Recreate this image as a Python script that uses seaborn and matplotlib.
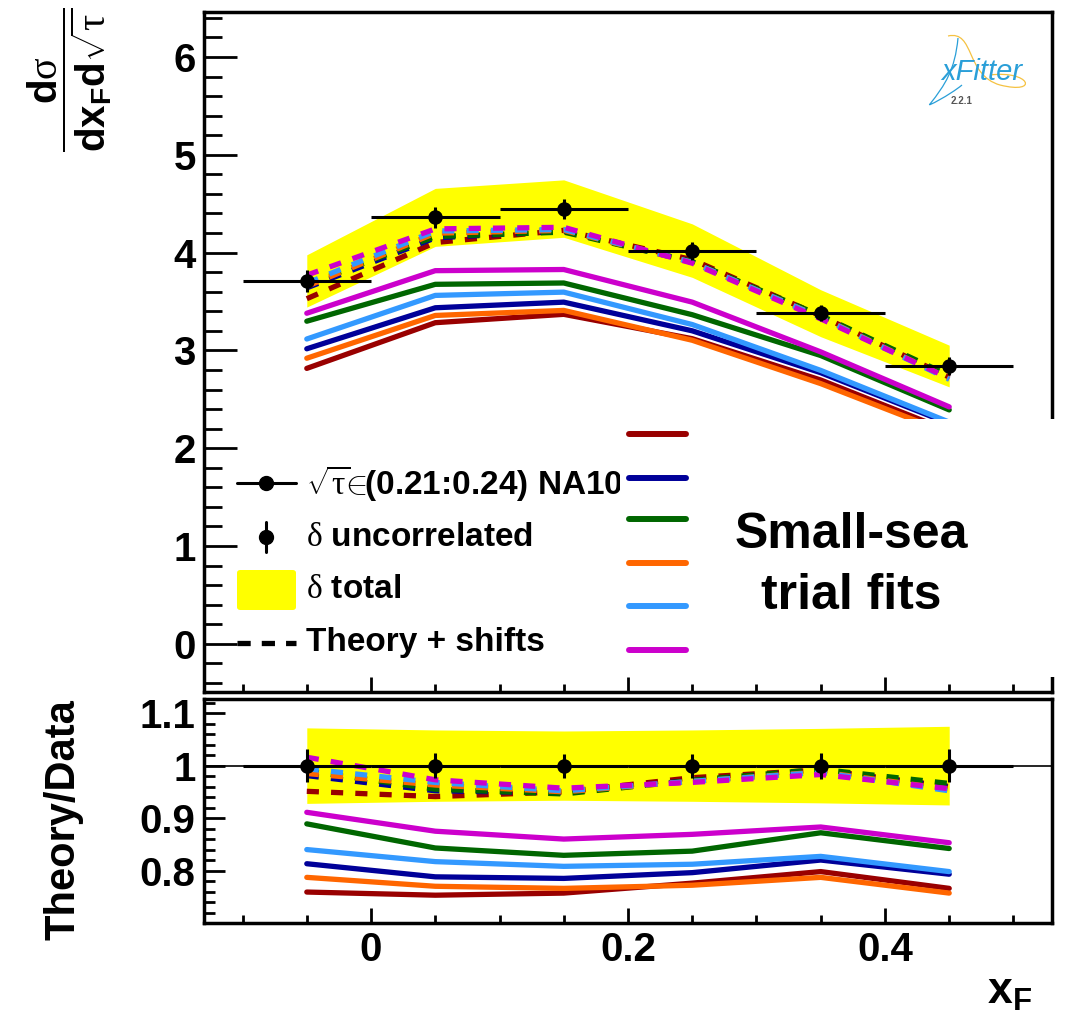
import numpy as np
import pandas as pd
import matplotlib
matplotlib.use("Agg")
import matplotlib.pyplot as plt
import seaborn as sns
from matplotlib.lines import Line2D
from matplotlib.patches import Rectangle, FancyBboxPatch, PathPatch
from matplotlib.path import Path
from matplotlib.ticker import MultipleLocator, FixedLocator, FuncFormatter

# ---- measured points (NA10, sqrt(tau) in 0.21-0.24) ----
x_f = [-0.05, 0.05, 0.15, 0.25, 0.35, 0.45]
x_half_width = 0.05
cross_section = [3.71, 4.36, 4.45, 4.02, 3.38, 2.84]
err_uncorr_rel = [0.031, 0.024, 0.023, 0.023, 0.025, 0.032]
err_total_rel = [0.072, 0.068, 0.066, 0.068, 0.071, 0.075]

# ---- small-sea trial fits ----
fit_names = ["trial 1", "trial 2", "trial 3", "trial 4", "trial 5", "trial 6"]
fit_colors = ["#990000", "#000099", "#006600", "#ff6600", "#3399ff", "#cc00cc"]

# theory / data for each trial fit
ratio_theory_1 = [0.759, 0.753, 0.757, 0.776, 0.798, 0.766]
ratio_theory_2 = [0.813, 0.788, 0.785, 0.796, 0.820, 0.793]
ratio_theory_3 = [0.889, 0.843, 0.829, 0.837, 0.872, 0.842]
ratio_theory_4 = [0.787, 0.770, 0.766, 0.772, 0.787, 0.757]
ratio_theory_5 = [0.840, 0.817, 0.808, 0.812, 0.827, 0.798]
ratio_theory_6 = [0.911, 0.875, 0.860, 0.869, 0.883, 0.853]

# (theory + shifts) / data for each trial fit
ratio_shifted_1 = [0.951, 0.941, 0.950, 0.977, 0.992, 0.960]
ratio_shifted_2 = [0.981, 0.952, 0.948, 0.972, 0.990, 0.960]
ratio_shifted_3 = [0.990, 0.955, 0.946, 0.972, 0.993, 0.966]
ratio_shifted_4 = [0.985, 0.963, 0.950, 0.970, 0.988, 0.955]
ratio_shifted_5 = [0.994, 0.968, 0.952, 0.970, 0.987, 0.952]
ratio_shifted_6 = [1.016, 0.973, 0.957, 0.968, 0.983, 0.956]

ratio_theory = [ratio_theory_1, ratio_theory_2, ratio_theory_3,
                ratio_theory_4, ratio_theory_5, ratio_theory_6]
ratio_shifted = [ratio_shifted_1, ratio_shifted_2, ratio_shifted_3,
                 ratio_shifted_4, ratio_shifted_5, ratio_shifted_6]

ratio_ticks = [0.8, 0.9, 1.0, 1.1]

# ---- style ----
sns.set_theme(style="ticks")
plt.rcParams["font.family"] = ["Liberation Sans", "DejaVu Sans"]
plt.rcParams["font.weight"] = "bold"
plt.rcParams["mathtext.fontset"] = "custom"
plt.rcParams["mathtext.rm"] = "Liberation Serif:weight=normal"
plt.rcParams["mathtext.it"] = "Liberation Serif:italic:weight=normal"
plt.rcParams["mathtext.bf"] = "Liberation Sans:bold"
plt.rcParams["mathtext.sf"] = "Liberation Sans:bold"
plt.rcParams["axes.linewidth"] = 2.5
for key in ["text.color", "axes.labelcolor", "xtick.color", "ytick.color",
            "axes.edgecolor", "xtick.labelcolor", "ytick.labelcolor"]:
    plt.rcParams[key] = "black"

W, H = 1071, 1015


def fx(px):
    return px / W


def fy(py):
    return 1 - py / H


data = np.array(cross_section)
xs = np.array(x_f)
rows = []
for name, rt, rs in zip(fit_names, ratio_theory, ratio_shifted):
    for i in range(len(x_f)):
        rows.append(dict(xF=x_f[i], fit=name, kind="theory",
                         ratio=rt[i], value=rt[i] * data[i]))
        rows.append(dict(xF=x_f[i], fit=name, kind="shifted",
                         ratio=rs[i], value=rs[i] * data[i]))
df = pd.DataFrame(rows)
palette = dict(zip(fit_names, fit_colors))

fig = plt.figure(figsize=(W / 100, H / 100), dpi=100)
ax = fig.add_axes([fx(204), fy(691.7), fx(1052) - fx(204), fy(12) - fy(691.7)])
axr = fig.add_axes([fx(204), fy(923), fx(1052) - fx(204), fy(699) - fy(923)])

lw_theory = 3.8
dash = (0, (2.3, 2.3))

# ---- upper panel ----
ax.fill_between(xs, data * (1 - np.array(err_total_rel)),
                data * (1 + np.array(err_total_rel)),
                color="#ffff00", lw=0, zorder=1)
sns.lineplot(data=df[df.kind == "theory"], x="xF", y="value", hue="fit",
             palette=palette, linewidth=lw_theory, legend=False,
             errorbar=None, sort=False, ax=ax, zorder=2)
sns.lineplot(data=df[df.kind == "shifted"], x="xF", y="value", hue="fit",
             palette=palette, linewidth=lw_theory, legend=False,
             errorbar=None, sort=False, ax=ax, zorder=3, linestyle=dash)
ax.errorbar(xs, data, xerr=x_half_width, yerr=data * np.array(err_uncorr_rel),
            fmt="none", ecolor="black", elinewidth=2.2, capsize=0, zorder=4)
sns.scatterplot(x=xs, y=data, color="black", s=110, edgecolor="black",
                linewidth=0, ax=ax, zorder=5)

ax.set_xlim(-0.13, 0.53)
ax.set_ylim(-0.49, 6.46)
ax.yaxis.set_major_locator(MultipleLocator(1))
ax.yaxis.set_minor_locator(MultipleLocator(0.2))
ax.xaxis.set_major_locator(MultipleLocator(0.2))
ax.xaxis.set_minor_locator(MultipleLocator(0.05))
ax.yaxis.set_major_formatter(FuncFormatter(lambda v, p: f"{v:g}"))
ax.tick_params(axis="y", which="major", direction="in", length=24, width=2,
               labelsize=29, pad=6, left=True, right=False)
ax.tick_params(axis="y", which="minor", direction="in", length=13, width=2,
               left=True, right=False)
ax.tick_params(axis="x", which="major", direction="in", length=11, width=2,
               bottom=True, top=False, labelbottom=False)
ax.tick_params(axis="x", which="minor", direction="in", length=5.5, width=2,
               bottom=True, top=False)
ax.set_xlabel("")
ax.set_ylabel("")

# ---- ratio panel ----
axr.fill_between(xs, 1 - np.array(err_total_rel), 1 + np.array(err_total_rel),
                 color="#ffff00", lw=0, zorder=1)
axr.axhline(1.0, color="black", lw=1.2, zorder=1.5)
sns.lineplot(data=df[df.kind == "theory"], x="xF", y="ratio", hue="fit",
             palette=palette, linewidth=lw_theory, legend=False,
             errorbar=None, sort=False, ax=axr, zorder=2)
sns.lineplot(data=df[df.kind == "shifted"], x="xF", y="ratio", hue="fit",
             palette=palette, linewidth=lw_theory, legend=False,
             errorbar=None, sort=False, ax=axr, zorder=3, linestyle=dash)
axr.errorbar(xs, np.ones_like(xs), xerr=x_half_width, yerr=err_uncorr_rel,
             fmt="none", ecolor="black", elinewidth=2.2, capsize=0, zorder=4)
sns.scatterplot(x=xs, y=np.ones_like(xs), color="black", s=110,
                edgecolor="black", linewidth=0, ax=axr, zorder=5)

axr.set_xlim(-0.13, 0.53)
axr.set_ylim(0.70, 1.127)
axr.yaxis.set_major_locator(FixedLocator(ratio_ticks))
axr.yaxis.set_minor_locator(MultipleLocator(0.02))
axr.xaxis.set_major_locator(MultipleLocator(0.2))
axr.xaxis.set_minor_locator(MultipleLocator(0.05))
fmt = FuncFormatter(lambda v, p: f"{v:g}")
axr.yaxis.set_major_formatter(fmt)
axr.xaxis.set_major_formatter(fmt)
axr.tick_params(axis="y", which="major", direction="in", length=15, width=2,
                labelsize=29, pad=6, left=True, right=False)
axr.tick_params(axis="y", which="minor", direction="in", length=8, width=2,
                left=True, right=False)
axr.tick_params(axis="x", which="major", direction="in", length=11, width=2,
                labelsize=29, pad=6, bottom=True, top=False)
axr.tick_params(axis="x", which="minor", direction="in", length=5.5, width=2,
                bottom=True, top=False)
axr.set_xlabel("")
axr.set_ylabel("")

# ---- axis titles ----
fig.text(fx(70), fy(80),
         r"$\dfrac{\mathbf{d}\mathrm{\sigma}}{\mathbf{dx_F d}\sqrt{\mathrm{\tau}}}$",
         rotation=90, ha="center", va="center", fontsize=29)
fig.text(fx(64), fy(820), "Theory/Data", rotation=90, ha="center",
         va="center", fontsize=30, fontweight="bold")
fig.text(fx(1010), fy(992), r"$\mathbf{x_F}$", ha="center", va="center",
         fontsize=32)

# ---- left legend ----
lx0, lx1, lxm = fx(237), fx(296), fx(266)
fig.add_artist(Line2D([lx0, lx1], [fy(483), fy(483)], color="black", lw=2.2,
                      transform=fig.transFigure))
fig.add_artist(Line2D([lxm], [fy(483)], marker="o", markersize=10,
                      color="black", transform=fig.transFigure))
fig.add_artist(Line2D([lxm, lxm], [fy(522), fy(552)], color="black", lw=2.2,
                      transform=fig.transFigure))
fig.add_artist(Line2D([lxm], [fy(537)], marker="o", markersize=10,
                      color="black", transform=fig.transFigure))
fig.add_artist(FancyBboxPatch((lx0, fy(610)), lx1 - lx0, fy(570) - fy(610),
                              boxstyle="round,pad=0,rounding_size=0.003",
                              facecolor="#ffff00", edgecolor="none",
                              transform=fig.transFigure))
fig.add_artist(Line2D([lx0, lx1], [fy(643), fy(643)], color="black",
                      lw=lw_theory, linestyle=(0, (2.5, 2.1)),
                      transform=fig.transFigure))
legend_fs = 24
fig.text(fx(306), fy(483), r"$\sqrt{\mathrm{\tau}}\!\!\in\!\!$(0.21:0.24) NA10",
         ha="left", va="center", fontsize=legend_fs, zorder=3)
fig.text(fx(306), fy(537), r"$\mathrm{\delta}$ uncorrelated",
         ha="left", va="center", fontsize=legend_fs, zorder=3)
fig.text(fx(306), fy(590), r"$\mathrm{\delta}$ total",
         ha="left", va="center", fontsize=legend_fs, zorder=3)
fig.text(fx(306), fy(643), "Theory + shifts",
         ha="left", va="center", fontsize=legend_fs, zorder=3)

# ---- right legend (trial fits) ----
fig.add_artist(Rectangle((fx(620), fy(677)), fx(1068) - fx(620),
                         fy(419) - fy(677), facecolor="white",
                         edgecolor="none", transform=fig.transFigure,
                         zorder=5))
for col, py in zip(fit_colors, [434, 478, 519, 563, 606, 650]):
    fig.add_artist(Line2D([fx(629), fx(686)], [fy(py), fy(py)], color=col,
                          lw=4.3, transform=fig.transFigure, zorder=6))
fig.text(fx(851), fy(535), "Small-sea", ha="center", va="center",
         fontsize=36, fontweight="bold", zorder=6)
fig.text(fx(851), fy(596), "trial fits", ha="center", va="center",
         fontsize=36, fontweight="bold", zorder=6)

# ---- xFitter badge ----
loop = Path([(fx(948), fy(36)), (fx(975), fy(30)), (fx(965), fy(75)),
             (fx(1000), fy(85)), (fx(1040), fy(95)), (fx(1030), fy(70)),
             (fx(990), fy(75))],
            [Path.MOVETO, Path.CURVE4, Path.CURVE4, Path.CURVE4,
             Path.CURVE4, Path.CURVE4, Path.CURVE4])
fig.add_artist(PathPatch(loop, facecolor="none", edgecolor="#f5c242", lw=0.9,
                         transform=fig.transFigure, zorder=3))
stem = Path([(fx(958), fy(38)), (fx(955), fy(70)), (fx(945), fy(85)),
             (fx(930), fy(104)), (fx(925), fy(108)), (fx(950), fy(95)),
             (fx(962), fy(85))],
            [Path.MOVETO, Path.CURVE4, Path.CURVE4, Path.CURVE4,
             Path.CURVE4, Path.CURVE4, Path.CURVE4])
fig.add_artist(PathPatch(stem, facecolor="none", edgecolor="#2a9fd8", lw=0.9,
                         transform=fig.transFigure, zorder=3))
fig.text(fx(982), fy(72), "xFitter", ha="center", va="center", fontsize=21,
         fontstyle="italic", fontweight="normal", color="#2a9fd8", zorder=4)
fig.text(fx(962), fy(101), "2.2.1", ha="center", va="center", fontsize=7,
         fontweight="bold", color="#555555", zorder=4)

fig.savefig("out.png", dpi=100)
